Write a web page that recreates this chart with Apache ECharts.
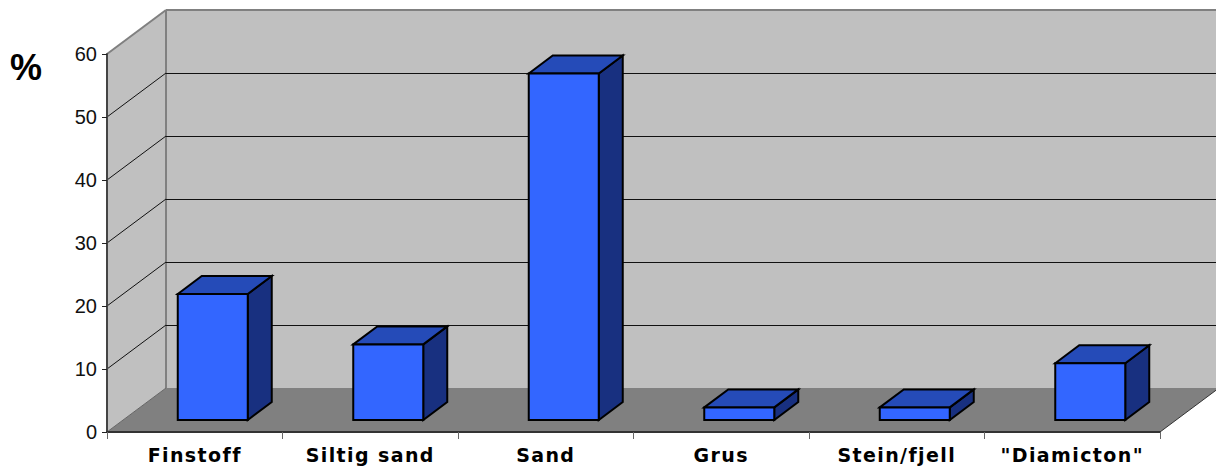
<!DOCTYPE html>
<html>
<head>
<meta charset="utf-8">
<style>
html,body{margin:0;padding:0;background:#fff}
#chart{width:1216px;height:466px}
/* wider tracking for the category labels */
#chart text[style*="DejaVu"]{letter-spacing:1.4px}
</style>
<script src="https://cdn.jsdelivr.net/npm/echarts@6/dist/echarts.min.js"></script>
</head>
<body>
<div id="chart"></div>
<script>
// Sediment type shares, in percent
const categories = ['Finstoff', 'Siltig sand', 'Sand', 'Grus', 'Stein/fjell', '"Diamicton"'];
const values = [20, 12, 55, 2, 2, 9];
const yTicks = [10, 20, 30, 40, 50];

// Pseudo-3D box projection, in pixels
const ROOM_DX = 59, ROOM_DY = -44;
const BAR_SHIFT_X = 18, BAR_SHIFT_Y = -12;
const BAR_DX = 24, BAR_DY = -18;
const BAR_WIDTH = 70;

const poly = (points, fill, stroke, lineWidth) => ({
  type: 'polygon',
  shape: { points },
  style: { fill, stroke, lineWidth, lineJoin: 'miter' }
});
const line = (x1, y1, x2, y2, stroke, lineWidth) => ({
  type: 'line',
  shape: { x1, y1, x2, y2 },
  style: { stroke, lineWidth }
});

function renderRoom(params, api) {
  const cs = params.coordSys;
  const l = cs.x, r = cs.x + cs.width, b = cs.y + cs.height, t = cs.y;
  const dx = ROOM_DX, dy = ROOM_DY;
  const children = [
    poly([[l + dx, t + dy], [r + dx, t + dy], [r + dx, b + dy], [l + dx, b + dy]], '#c0c0c0', null, 0),
    poly([[l, t], [l + dx, t + dy], [l + dx, b + dy], [l, b]], '#c0c0c0', null, 0),
    poly([[l, b], [l + dx, b + dy], [r + dx, b + dy], [r, b]], '#808080', null, 0),
    line(l, t, l + dx, t + dy, '#808080', 2),
    line(l + dx, t + dy, r + dx, t + dy, '#808080', 2),
    line(l + dx, t + dy, l + dx, b + dy, '#808080', 2),
    line(l, b, l + dx, b + dy, '#666666', 1),
    line(r, b, r + dx, b + dy, '#333333', 1)
  ];
  yTicks.forEach(v => {
    const y = api.coord([0, v])[1];
    children.push(line(l, y, l + dx, y + dy, '#111111', 1));
    children.push(line(l + dx, y + dy + 0.5, r + dx, y + dy + 0.5, '#111111', 1));
  });
  return { type: 'group', children };
}

function renderBox(params, api) {
  const top = api.coord([api.value(0), api.value(1)]);
  const base = api.coord([api.value(0), 0]);
  const x0 = top[0] + BAR_SHIFT_X - BAR_WIDTH / 2, x1 = x0 + BAR_WIDTH;
  const y0 = top[1] + BAR_SHIFT_Y, y1 = base[1] + BAR_SHIFT_Y;
  const dx = BAR_DX, dy = BAR_DY;
  return {
    type: 'group',
    children: [
      poly([[x1, y0], [x1 + dx, y0 + dy], [x1 + dx, y1 + dy], [x1, y1]], '#183080', '#000', 2),
      poly([[x0, y0], [x0 + dx, y0 + dy], [x1 + dx, y0 + dy], [x1, y0]], '#254bb8', '#000', 2),
      poly([[x0, y0], [x1, y0], [x1, y1], [x0, y1]], '#3366ff', '#000', 2)
    ]
  };
}

const chart = echarts.init(document.getElementById('chart'), null, { renderer: 'svg' });
chart.setOption({
  animation: false,
  backgroundColor: '#fff',
  title: {
    text: '%', left: 5, top: 44,
    textStyle: { fontFamily: 'Liberation Sans', fontWeight: 'bold', fontSize: 36, color: '#000' }
  },
  grid: { left: 107, top: 54, width: 1053, height: 378 },
  xAxis: {
    type: 'category',
    data: categories,
    z: 5,
    axisLine: { lineStyle: { color: '#333333', width: 2 } },
    axisTick: { show: true, alignWithLabel: false, length: 7, lineStyle: { color: '#666666', width: 1 } },
    axisLabel: {
      interval: 0, margin: 13, lineHeight: 19,
      fontFamily: 'DejaVu Sans', fontWeight: 'bold', fontSize: 19, color: '#000'
    }
  },
  yAxis: {
    type: 'value', min: 0, max: 60, interval: 10,
    z: 5,
    splitLine: { show: false },
    axisLine: { show: true, lineStyle: { color: '#444444', width: 2 } },
    axisTick: { show: true, length: 5, lineStyle: { color: '#222222', width: 1 } },
    axisLabel: { margin: 10, fontFamily: 'Liberation Sans', fontSize: 20, color: '#111' }
  },
  series: [
    { type: 'custom', silent: true, z: 1, renderItem: renderRoom, data: [[0, 0]] },
    {
      type: 'custom', z: 2, renderItem: renderBox,
      encode: { x: 0, y: 1 },
      data: categories.map((c, i) => [i, values[i]])
    }
  ]
});
</script>
</body>
</html>
